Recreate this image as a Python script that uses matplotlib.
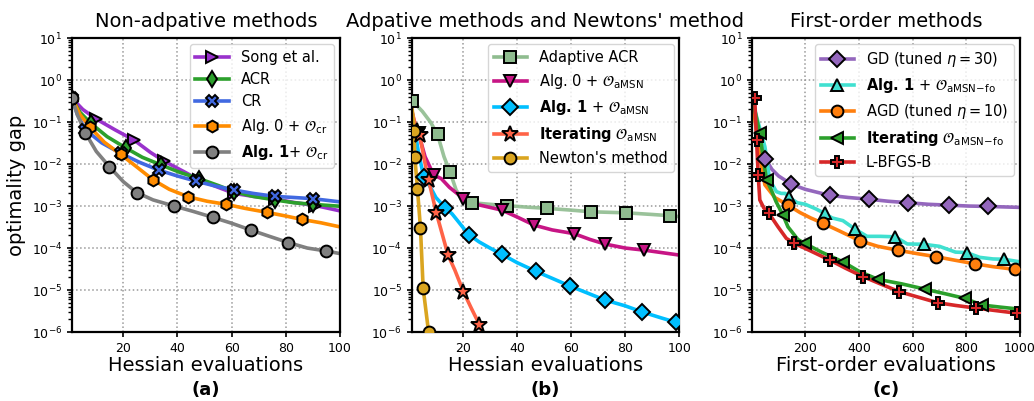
import matplotlib.pyplot as plt
from matplotlib.lines import Line2D
from matplotlib.ticker import LogLocator, NullFormatter

# ---- (a) non-adaptive methods, x = Hessian evaluations
song_x = [1, 5, 10, 17, 24, 30, 35, 42, 48, 55, 61, 68, 76, 83, 91, 100]
song_y = [0.37, 0.2, 0.118, 0.065, 0.037, 0.019, 0.0118, 0.0068, 0.0042, 0.0028,
          0.0020, 0.0017, 0.00148, 0.00122, 0.00103, 0.00077]
acr_x = [1, 4, 8, 14, 21, 27, 34, 41, 48, 55, 61, 68, 76, 83, 90, 100]
acr_y = [0.37, 0.17, 0.093, 0.045, 0.024, 0.0145, 0.0095, 0.0063, 0.0045, 0.0031,
         0.0022, 0.0017, 0.0014, 0.0012, 0.0011, 0.00099]
cr_x = [1, 3, 6, 12, 19, 26, 33, 40, 47, 54, 61, 68, 76, 83, 90, 100]
cr_y = [0.37, 0.15, 0.065, 0.032, 0.018, 0.011, 0.0072, 0.0052, 0.0039, 0.003,
        0.0024, 0.002, 0.0017, 0.0016, 0.0015, 0.00126]
alg0cr_x = [1, 4, 7.7, 13, 19, 25, 31, 37, 44, 51, 58, 65, 73, 80, 86, 93, 100]
alg0cr_y = [0.37, 0.15, 0.075, 0.033, 0.017, 0.0085, 0.0042, 0.0025, 0.00166, 0.0013,
            0.0011, 0.00088, 0.00071, 0.00058, 0.00048, 0.0004, 0.00032]
alg1cr_x = [1, 3, 5.9, 10, 14.8, 20, 24.9, 31, 38.8, 46, 53, 60, 67, 74, 81, 88, 95, 100]
alg1cr_y = [0.37, 0.15, 0.056, 0.02, 0.0087, 0.0038, 0.0021, 0.0014, 0.001, 0.00074,
            0.00054, 0.00039, 0.00027, 0.00019, 0.000135, 0.0001, 0.000085, 0.000074]

# ---- (b) adaptive methods and Newton
aacr_x = [1.3, 5, 8, 10.6, 13, 15.3, 17.5, 20, 23.3, 30, 36.4, 44, 51.2, 60, 67.3,
          80.4, 90, 96.4, 100]
aacr_y = [0.32, 0.18, 0.1, 0.051, 0.015, 0.0063, 0.0024, 0.0014, 0.0012, 0.0011,
          0.00102, 0.00094, 0.00088, 0.0008, 0.00073, 0.00069, 0.00063, 0.00059, 0.00056]
amsn0_x = [1, 2, 3.6, 6, 9.2, 12, 15, 20.2, 25, 34.4, 40, 46.4, 53, 61.1, 67, 72.4,
           80, 87.1, 100]
amsn0_y = [0.2, 0.1, 0.054, 0.015, 0.0055, 0.0045, 0.0028, 0.0015, 0.0011, 0.0008,
           0.00055, 0.00035, 0.00027, 0.00022, 0.00016, 0.000125, 0.0001, 0.000089, 0.000068]
amsn1_x = [1, 2, 3.5, 5.5, 8, 10, 13.5, 16, 18, 22.1, 26, 30, 34.4, 40, 46.9, 53,
           59.5, 66, 72.4, 80, 86.3, 93, 98.8, 100]
amsn1_y = [0.2, 0.08, 0.02, 0.005, 0.0028, 0.0016, 0.00091, 0.00065, 0.00045, 0.00021,
           0.00014, 0.0001, 7.1e-5, 4.5e-5, 2.8e-5, 1.9e-5, 1.25e-5, 8.5e-6, 5.8e-6,
           4.2e-6, 3.0e-6, 2.2e-6, 1.7e-6, 1.6e-6]
iter_x = [1, 3.0, 4.0, 5.8, 7.3, 10.2, 12.3, 14.5, 17, 20.2, 23, 26.1, 28]
iter_y = [0.2, 0.06, 0.05, 0.012, 0.0042, 0.00067, 0.00022, 6.8e-5, 3.0e-5, 9.1e-6,
          3.8e-6, 1.5e-6, 7e-7]
newton_x = [1, 2.0, 2.2, 3.2, 4.3, 5.3, 7.3]
newton_y = [0.3, 0.06, 0.015, 0.0025, 0.0003, 1.1e-5, 1e-6]

# ---- (c) first-order methods, x = first-order evaluations
gd_x = [1, 20, 35, 51, 75, 100, 148, 200, 290, 360, 439, 510, 584, 660, 734, 810,
        881, 950, 1000]
gd_y = [0.37, 0.1, 0.03, 0.0135, 0.0075, 0.0052, 0.0033, 0.0025, 0.0018, 0.0016,
        0.00145, 0.0013, 0.0012, 0.0011, 0.00105, 0.001, 0.00098, 0.00095, 0.00093]
fo1_x = [1, 20, 49, 67, 92, 110, 125, 139, 170, 200, 240, 272, 300, 340, 386, 430,
         480, 536, 580, 641, 700, 760, 802, 850, 900, 941, 1000]
fo1_y = [0.37, 0.12, 0.026, 0.0042, 0.0022, 0.002, 0.002, 0.0016, 0.0012, 0.0011,
         0.00085, 0.00067, 0.00052, 0.00045, 0.00028, 0.00019, 0.00019, 0.000185,
         0.000125, 0.000123, 0.00011, 8e-5, 7.8e-5, 6e-5, 5.5e-5, 5.4e-5, 4.7e-5]
agd_x = [1, 15, 30, 49, 86, 135, 180, 220, 265, 330, 402, 470, 544, 620, 689, 760,
         833, 900, 982, 1000]
agd_y = [0.37, 0.08, 0.015, 0.0032, 0.0016, 0.00105, 0.0007, 0.00052, 0.00039, 0.00025,
         0.00015, 0.00011, 8.9e-5, 7.3e-5, 6.2e-5, 5.1e-5, 4.2e-5, 3.6e-5, 3.1e-5, 3.0e-5]
fo_iter_x = [1, 15, 30, 42, 55, 73, 90, 117, 135, 172, 197, 260, 340, 400, 470, 560,
             646, 720, 796, 858, 930, 1000]
fo_iter_y = [0.37, 0.15, 0.054, 0.015, 0.0042, 0.0024, 0.0013, 0.0006, 0.00032,
             0.00016, 0.00013, 8e-5, 4.7e-5, 2.8e-5, 1.8e-5, 1.4e-5, 1.05e-5, 8.2e-6,
             6.3e-6, 4.4e-6, 3.9e-6, 3.5e-6]
lbfgs_x = [1, 11, 18, 24, 30, 45, 64, 98, 129, 158, 220, 290, 350, 414, 480, 551,
           620, 693, 760, 838, 900, 990, 1000]
lbfgs_y = [0.4, 0.37, 0.037, 0.0055, 0.0014, 0.0009, 0.00067, 0.00032, 0.00017,
           0.00013, 8.5e-5, 5.2e-5, 3.3e-5, 2.1e-5, 1.4e-5, 9.1e-6, 6.8e-6, 5.0e-6,
           4.3e-6, 3.7e-6, 3.3e-6, 2.8e-6, 2.7e-6]

O = r'\mathcal{O}'
panels = [
    ("Non-adpative methods", "Hessian evaluations", "(a)", 100, [
        (song_x, song_y, "Song et al.", "#9932cc", ">", [0, 2, 4, 6, 8, 10, 12, 14], 1),
        (acr_x, acr_y, "ACR", "#2ca02c", "d", [0, 2, 4, 6, 8, 10, 12, 14], 1),
        (cr_x, cr_y, "CR", "#4169e1", "X", [0, 2, 4, 6, 8, 10, 12, 14], 1),
        (alg0cr_x, alg0cr_y, "Alg. 0 + $" + O + r"_{\mathrm{cr}}$", "#ff8c00", "h",
         [0, 2, 4, 6, 8, 10, 12, 14], 1),
        (alg1cr_x, alg1cr_y, r"$\mathbf{Alg.\,1}$+ $" + O + r"_{\mathrm{cr}}$", "gray", "o",
         [0, 2, 4, 6, 8, 10, 12, 14, 16], 1),
    ]),
    ("Adpative methods and Newtons' method", "Hessian evaluations", "(b)", 100, [
        (aacr_x, aacr_y, "Adaptive ACR", "#8fbc8f", "s", [0, 3, 5, 8, 10, 12, 14, 15, 17], 0.9),
        (amsn0_x, amsn0_y, "Alg. 0 + $" + O + r"_{\mathrm{aMSN}}$", "#c71585", "v",
         [2, 4, 7, 9, 11, 13, 15, 17], 1),
        (amsn1_x, amsn1_y, r"$\mathbf{Alg.\,1}$ + $" + O + r"_{\mathrm{aMSN}}$", "#00bfff", "D",
         [3, 6, 9, 12, 14, 16, 18, 20, 22], 1),
        (iter_x, iter_y, r"$\mathbf{Iterating}$ $" + O + r"_{\mathrm{aMSN}}$", "#ff6347", "*",
         [1, 2, 4, 5, 7, 9, 11], 1),
        (newton_x, newton_y, "Newton's method", "#daa520", "o", [1, 2, 3, 4, 5, 6], 1),
    ]),
    ("First-order methods", "First-order evaluations", "(c)", 1000, [
        (gd_x, gd_y, r"GD (tuned $\eta = 30$)", "#9467bd", "D", [3, 6, 8, 10, 12, 14, 16], 1),
        (fo1_x, fo1_y, r"$\mathbf{Alg.\,1}$ + $" + O + r"_{\mathrm{aMSN\!-\!fo}}$", "#40e0d0", "^",
         [7, 11, 14, 17, 19, 22, 25], 1),
        (agd_x, agd_y, r"AGD (tuned $\eta = 10$)", "#ff7f0e", "o", [5, 8, 10, 12, 14, 16, 18], 1),
        (fo_iter_x, fo_iter_y, r"$\mathbf{Iterating}$ $" + O + r"_{\mathrm{aMSN\!-\!fo}}$",
         "#2ca02c", "<", [2, 4, 7, 10, 12, 14, 16, 18, 19], 1),
        (lbfgs_x, lbfgs_y, "L-BFGS-B", "#d62728", "P", [1, 2, 3, 6, 9, 11, 13, 15, 17, 19, 21], 1),
    ]),
]

fig = plt.figure(figsize=(10.34, 4.01), dpi=100)
lefts = [0.0696, 0.398, 0.7273]
for i, (title, xlabel, tag, xmax, series) in enumerate(panels):
    ax = fig.add_axes([lefts[i], 0.172, 0.259, 0.733])
    handles = []
    for xs, ys, label, color, marker, marks, alpha in series:
        ms = 12 if marker == "*" else 8.5
        ax.plot(xs, ys, color=color, lw=2.6, alpha=alpha, zorder=2)
        ax.plot([xs[k] for k in marks], [ys[k] for k in marks], ls="none",
                marker=marker, ms=ms, mfc=color, mec="black", mew=1.4, zorder=3)
        handles.append(Line2D([], [], color=color, lw=2.6, marker=marker, ms=ms,
                              mfc=color, mec="black", mew=1.4, label=label))
    ax.set_yscale("log")
    ax.set_ylim(1e-6, 10)
    ax.set_xlim(1, xmax)
    ax.set_yticks([10.0 ** p for p in range(-6, 2)])
    ax.yaxis.set_minor_locator(LogLocator(base=10, subs=range(2, 10), numticks=100))
    ax.yaxis.set_minor_formatter(NullFormatter())
    if xmax == 100:
        ax.set_xticks([20, 40, 60, 80, 100])
    else:
        ax.set_xticks([200, 400, 600, 800, 1000])
    ax.grid(True, which="major", ls=":", color="0.6", lw=1.1)
    ax.tick_params(labelsize=9, width=1.2)
    ax.tick_params(which="minor", width=1.0, length=3)
    for s in ax.spines.values():
        s.set_linewidth(1.6)
    ax.set_title(title, fontsize=14, pad=8)
    ax.set_xlabel(xlabel, fontsize=14, labelpad=1)
    ax.text(0.5, -0.165, tag, transform=ax.transAxes, ha="center", va="top",
            fontsize=13, fontweight="bold")
    if i == 0:
        ax.set_ylabel("optimality gap", fontsize=14)
    ax.legend(handles=handles, loc="upper right", fontsize=10.5, handlelength=2.3,
              borderaxespad=0.4)

fig.savefig("out.png", dpi=100)
